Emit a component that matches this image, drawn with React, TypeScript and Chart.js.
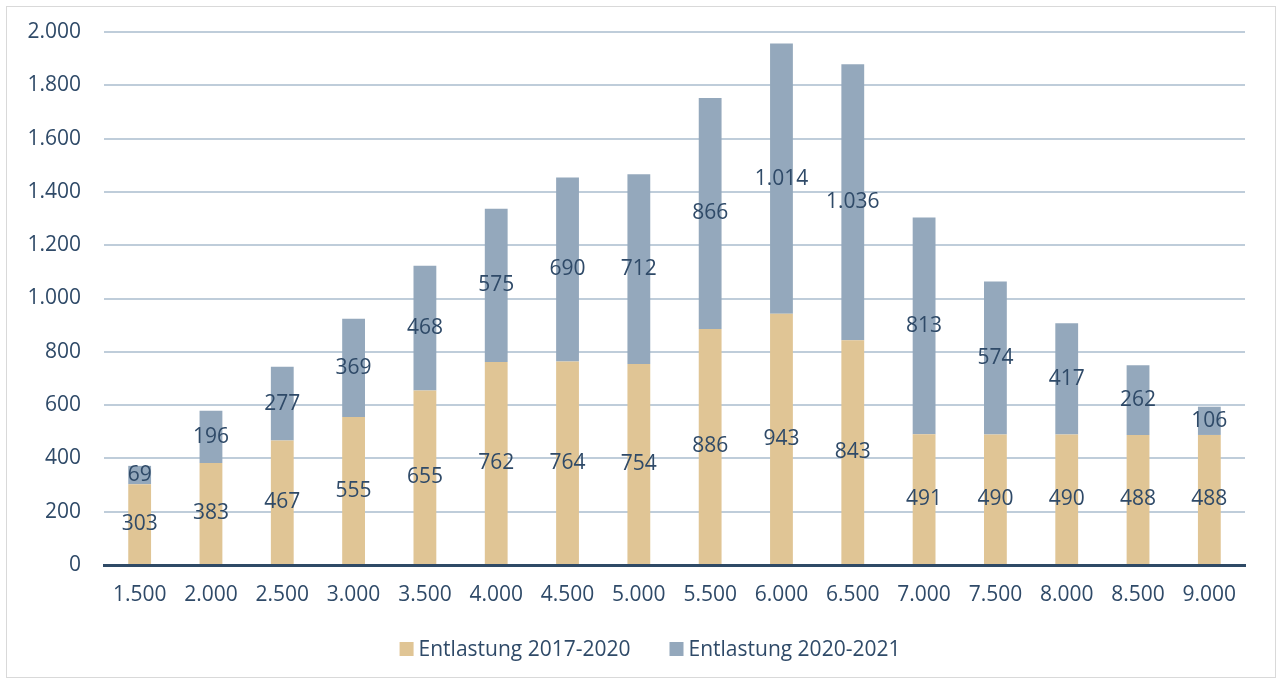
import React, { useEffect, useRef } from "react";
import { Chart, registerables } from "chart.js";

Chart.register(...registerables);

const categories = ["1.500", "2.000", "2.500", "3.000", "3.500", "4.000", "4.500", "5.000", "5.500", "6.000", "6.500", "7.000", "7.500", "8.000", "8.500", "9.000"];
const entlastung20172020 = [303, 383, 467, 555, 655, 762, 764, 754, 886, 943, 843, 491, 490, 490, 488, 488];
const entlastung20202021 = [69, 196, 277, 369, 468, 575, 690, 712, 866, 1014, 1036, 813, 574, 417, 262, 106];
const seriesNames = ["Entlastung 2017-2020", "Entlastung 2020-2021"];
const seriesColors = ["#E0C595", "#94A8BC"];

const TEXT = "#2F4A68";
const FONT = "'Open Sans', 'Noto Sans', sans-serif";
const FS = 21;

function fmt(v: number): string {
  const s = Math.round(v).toString();
  return s.replace(/\B(?=(\d{3})+(?!\d))/g, ".");
}

const labelPlugin = {
  id: "barLabels",
  afterDatasetsDraw(chart: any) {
    const ctx = chart.ctx;
    ctx.save();
    ctx.font = `${FS}px ${FONT}`;
    ctx.fillStyle = TEXT;
    ctx.textAlign = "center";
    ctx.textBaseline = "middle";
    chart.data.datasets.forEach((ds: any, di: number) => {
      const meta = chart.getDatasetMeta(di);
      meta.data.forEach((el: any, i: number) => {
        const y = (el.y + el.base) / 2;
        ctx.fillText(fmt(ds.data[i]), el.x, y);
      });
    });
    ctx.restore();
  },
};

const legendPlugin = {
  id: "customLegend",
  afterDraw(chart: any) {
    const ctx = chart.ctx;
    ctx.save();
    ctx.font = `${FS}px ${FONT}`;
    ctx.textBaseline = "middle";
    ctx.textAlign = "left";
    const box = 14, gapBox = 5, gapItem = 39;
    const widths = seriesNames.map((n) => ctx.measureText(n).width);
    const total = widths.reduce((a, w) => a + box + gapBox + w, 0) + gapItem * (seriesNames.length - 1);
    let x = 650 - total / 2;
    const cy = 649;
    seriesNames.forEach((n, i) => {
      ctx.fillStyle = seriesColors[i];
      ctx.fillRect(x, cy - box / 2, box, box);
      x += box + gapBox;
      ctx.fillStyle = TEXT;
      ctx.fillText(n, x, cy + 1);
      x += widths[i] + gapItem;
    });
    ctx.restore();
  },
};

export default function App() {
  const ref = useRef<HTMLCanvasElement | null>(null);
  useEffect(() => {
    if (!ref.current) return;
    const chart = new Chart(ref.current, {
      type: "bar",
      data: {
        labels: categories,
        datasets: [
          { label: seriesNames[0], data: entlastung20172020, backgroundColor: seriesColors[0], barPercentage: 0.64, categoryPercentage: 0.5 },
          { label: seriesNames[1], data: entlastung20202021, backgroundColor: seriesColors[1], barPercentage: 0.64, categoryPercentage: 0.5 },
        ],
      },
      options: {
        responsive: false,
        animation: false,
        maintainAspectRatio: false,
        layout: { padding: { left: 8, right: 36, top: 32, bottom: 0 } },
        plugins: {
          tooltip: { enabled: false },
          legend: { display: false },
        },
        scales: {
          x: {
            stacked: true,
            afterFit: (scale: any) => { scale.height = 118; scale.paddingLeft = 0; scale.paddingRight = 0; },
            grid: { display: false, drawTicks: false },
            border: { display: true, color: "#2F4A66", width: 3 },
            ticks: { color: TEXT, font: { family: FONT, size: FS }, padding: 17, maxRotation: 0 },
          },
          y: {
            stacked: true,
            min: 0,
            max: 2000,
            afterFit: (scale: any) => { scale.width = 96; scale.paddingTop = 0; scale.paddingBottom = 0; },
            grid: { color: "#BFCDDA", lineWidth: 2, drawTicks: false },
            border: { display: false },
            ticks: { stepSize: 200, color: TEXT, font: { family: FONT, size: FS }, padding: 23, callback: (v: any) => fmt(Number(v)) },
          },
        },
      },
      plugins: [labelPlugin, legendPlugin],
    });
    return () => chart.destroy();
  }, []);
  return (
    <div style={{ position: "fixed", left: 0, top: 0, width: 1281, height: 683, background: "#fff" }}>
      <div style={{ position: "absolute", left: 6, top: 6, width: 1268, height: 670, border: "1px solid #D9D9D9" }} />
      <canvas ref={ref} width={1281} height={683} style={{ position: "absolute", left: 0, top: 0 }} />
    </div>
  );
}
